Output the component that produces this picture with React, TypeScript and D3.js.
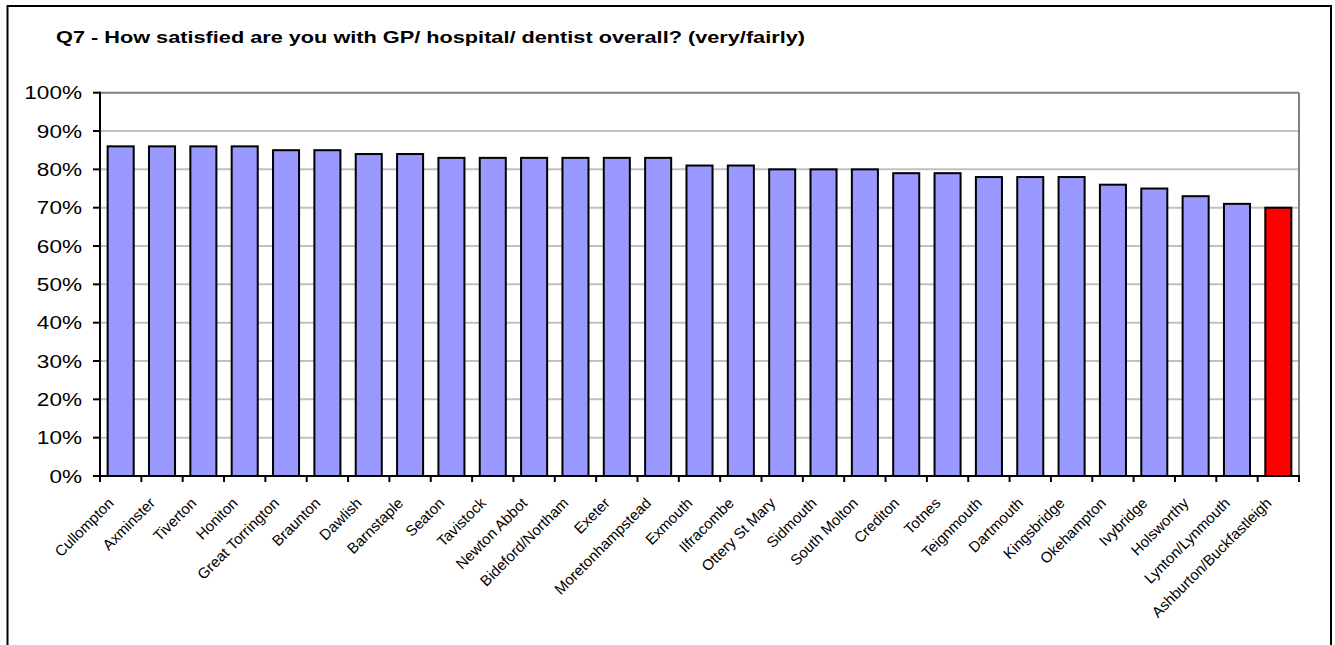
import React from "react";
import * as d3 from "d3";

const categories: string[] = [
  "Cullompton", "Axminster", "Tiverton", "Honiton", "Great Torrington", "Braunton",
  "Dawlish", "Barnstaple", "Seaton", "Tavistock", "Newton Abbot", "Bideford/Northam",
  "Exeter", "Moretonhampstead", "Exmouth", "Ilfracombe", "Ottery St Mary", "Sidmouth",
  "South Molton", "Crediton", "Totnes", "Teignmouth", "Dartmouth", "Kingsbridge",
  "Okehampton", "Ivybridge", "Holsworthy", "Lynton/Lynmouth", "Ashburton/Buckfastleigh",
];
const values: number[] = [
  86, 86, 86, 86, 85, 85, 84, 84, 83, 83, 83, 83, 83, 83, 81, 81, 80, 80, 80, 79, 79,
  78, 78, 78, 76, 75, 73, 71, 70,
];
const highlighted: string[] = ["Ashburton/Buckfastleigh"];
const yTicks: number[] = [0, 10, 20, 30, 40, 50, 60, 70, 80, 90, 100];
const title = "Q7 - How satisfied are you with GP/ hospital/ dentist overall? (very/fairly)";

export default function App() {
  const W = 1335;
  const H = 645;
  const left = 100;
  const right = 1299;
  const top = 92.7;
  const bottom = 476;

  const x = d3
    .scaleBand<string>()
    .domain(categories)
    .range([left, right])
    .paddingInner(0.37)
    .paddingOuter(0.185);
  const y = d3.scaleLinear().domain([0, 100]).range([bottom, top]);
  const step = x.step();
  const font = "'Liberation Sans', Arial, sans-serif";

  return (
    <svg
      width={W}
      height={H}
      style={{ position: "absolute", left: 0, top: 0, background: "#fff" }}
      fontFamily={font}
    >
      {/* outer frame */}
      <rect x={7.5} y={6} width={1331 - 7.5} height={H + 20} fill="#fff" stroke="#000" strokeWidth={2} />

      {/* title */}
      <text x={56} y={43} fontSize={17} fontWeight="bold" textLength={749} lengthAdjust="spacingAndGlyphs">
        {title}
      </text>

      {/* gridlines */}
      {yTicks.filter((t) => t > 0 && t < 100).map((t) => (
        <line key={"g" + t} x1={left} x2={right} y1={y(t)} y2={y(t)} stroke="#c0c0c0" strokeWidth={2} />
      ))}
      {/* plot border top/right */}
      <line x1={left} x2={right} y1={top} y2={top} stroke="#808080" strokeWidth={2} />
      <line x1={right} x2={right} y1={top} y2={bottom} stroke="#808080" strokeWidth={2} />

      {/* bars */}
      {categories.map((c, i) => (
        <rect
          key={c}
          x={x(c)}
          y={y(values[i])}
          width={x.bandwidth()}
          height={bottom - y(values[i])}
          fill={highlighted.includes(c) ? "#ff0000" : "#9999ff"}
          stroke="#000"
          strokeWidth={2}
        />
      ))}

      {/* y axis */}
      <line x1={left} x2={left} y1={top - 1} y2={bottom + 1} stroke="#000" strokeWidth={2} />
      {yTicks.map((t) => (
        <g key={"y" + t}>
          <line x1={left - 7} x2={left} y1={y(t)} y2={y(t)} stroke="#000" strokeWidth={2} />
          <text
            transform={`translate(82,${y(t) + 6.6}) scale(1.22,1)`}
            textAnchor="end"
            fontSize={18.5}
            fill="#000"
          >
            {t + "%"}
          </text>
        </g>
      ))}

      {/* x axis */}
      <line x1={left - 1} x2={right + 1} y1={bottom} y2={bottom} stroke="#000" strokeWidth={2} />
      {d3.range(categories.length + 1).map((i) => (
        <line
          key={"xt" + i}
          x1={left + i * step}
          x2={left + i * step}
          y1={bottom}
          y2={bottom + 6}
          stroke="#000"
          strokeWidth={2}
        />
      ))}
      {categories.map((c) => {
        const cx = (x(c) as number) + x.bandwidth() / 2;
        return (
          <text
            key={"xl" + c}
            transform={`translate(${cx - 6},504) rotate(-45)`}
            textAnchor="end"
            fontSize={15}
            fill="#000"
          >
            {c}
          </text>
        );
      })}
    </svg>
  );
}
